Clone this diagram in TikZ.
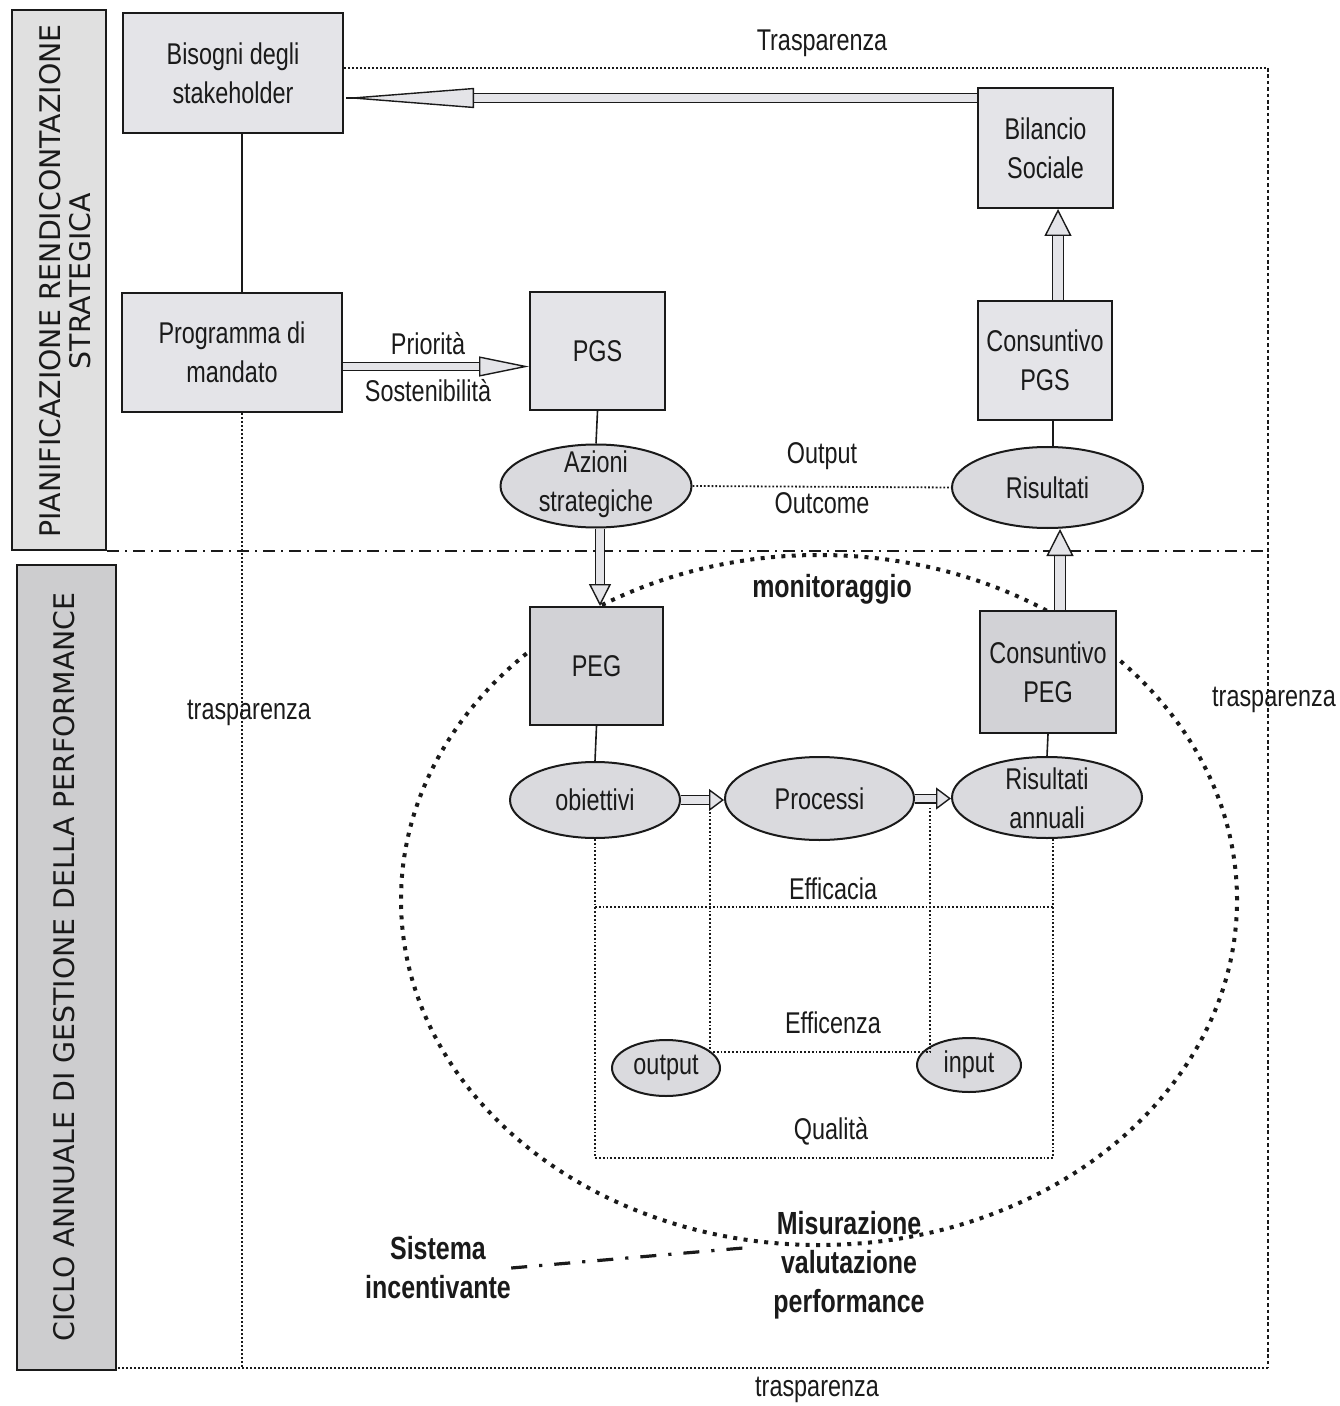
\documentclass[tikz,border=0pt]{standalone}
\usepackage{fontspec}
\setmainfont[FakeStretch=0.78]{Liberation Sans}
\newfontfamily\bannerfont{DejaVu Sans}
\usetikzlibrary{arrows.meta,shapes.geometric,calc}
\definecolor{boxfill}{HTML}{E4E4E8}
\definecolor{pegfill}{HTML}{D2D2D6}
\definecolor{ellfill}{HTML}{DADADE}
\definecolor{banA}{HTML}{E0E0E0}
\definecolor{banB}{HTML}{CDCDCF}
\definecolor{ink}{HTML}{1A1A1A}
% #1 shaft gap, #2 tip length, #3 tip width, #4 shorten, #5 start, #6 end
\newcommand{\hollowarrow}[6]{%
  \draw[draw=ink, line width=0.7pt, double=boxfill, double distance=#1, shorten >=#4] (#5) -- (#6);
  \draw[draw=ink, line width=0.7pt, -{Triangle[length=#2, width=#3, fill=boxfill]}] ($(#6)!1pt!(#5)$) -- (#6);
}
\begin{document}
\begin{tikzpicture}[x=0.5pt,y=-0.5pt,
  font=\fontsize{15pt}{19.5pt}\selectfont, text=ink,
  box/.style={draw=ink, line width=1pt, fill=boxfill, rectangle, inner sep=0pt, align=center},
  pegbox/.style={box, fill=pegfill},
  ell/.style={draw=ink, line width=1pt, fill=ellfill, ellipse, inner sep=0pt},
  txt/.style={inner sep=0pt, align=center},
  boldtxt/.style={txt, font=\fontsize{16pt}{19.5pt}\selectfont\bfseries},
  banner/.style={draw=ink, line width=1pt, rectangle, inner sep=0pt},
  link/.style={draw=ink, line width=0.8pt},
  frame/.style={draw=ink, line width=1pt, densely dotted},
  frameR/.style={draw=ink, line width=0.9pt, dash pattern=on 1.8pt off 1.4pt},
  sep/.style={draw=ink, line width=0.9pt, dash pattern=on 6pt off 3pt on 1pt off 3pt},
  grid/.style={draw=ink, line width=0.9pt, densely dotted},
  bigdots/.style={draw=ink, line width=2pt, dash pattern=on 2pt off 3.2pt},
  incent/.style={draw=ink, line width=1.6pt, dash pattern=on 8pt off 6pt on 1.6pt off 6pt},
]
\useasboundingbox (0,0) rectangle (1339,1406);

% helper coordinates
\coordinate (c242) at (242,0);
\coordinate (TR) at (1268,68);
\coordinate (BR) at (1268,1368);
\coordinate (y98) at (0,98);
\coordinate (y366) at (0,366.5);
\coordinate (x1058) at (1058,0);
\coordinate (x600) at (600,0);
\coordinate (x1060) at (1060,0);
\coordinate (x1053) at (1053,0);
\coordinate (q1) at (0,907);
\coordinate (q2) at (0,1158);
\coordinate (e1) at (710,808);
\coordinate (e2) at (930,808);
\coordinate (y1052) at (0,1052);

% big monitoring cycle
\draw[bigdots] (819,900) ellipse [x radius=209pt, y radius=172.5pt];

% banners
\node[banner, fill=banA, minimum width=47pt, minimum height=270pt] (ban1) at (59,280) {};
\node[rotate=90, align=center, inner sep=0pt, font=\bannerfont\fontsize{14.2pt}{15pt}\selectfont] (ban1t) at (65,281) {PIANIFICAZIONE RENDICONTAZIONE\\STRATEGICA};
\node[banner, fill=banB, minimum width=49.5pt, minimum height=402.5pt] (ban2) at (66.5,967.5) {};
\node[rotate=90, inner sep=0pt, font=\bannerfont\fontsize{14.2pt}{15pt}\selectfont] (ban2t) at (64,967) {CICLO ANNUALE DI GESTIONE DELLA PERFORMANCE};

% separator
\draw[sep] (ban1.south east) -- (TR |- ban1.south east);

% boxes
\node[box, minimum width=110pt, minimum height=60pt] (bis) at (233,73) {Bisogni degli\\stakeholder};
\node[box, minimum width=110pt, minimum height=59.5pt] (prog) at (232,352.5) {Programma di\\mandato};
\node[box, minimum width=67.5pt, minimum height=59pt] (pgs) at (597.5,351) {PGS};
\node[box, minimum width=67.5pt, minimum height=60pt] (bil) at (1045.5,148) {Bilancio\\Sociale};
\node[box, minimum width=67pt, minimum height=59.5pt] (cpgs) at (1045,360.5) {Consuntivo\\PGS};
\node[pegbox, minimum width=66.5pt, minimum height=59pt] (peg) at (596.5,666) {PEG};
\node[pegbox, minimum width=68pt, minimum height=61pt] (cpeg) at (1048,672) {Consuntivo\\PEG};

% ellipses
\node[ell, minimum width=95.5pt, minimum height=41.5pt] (az) at (596,486) {};
\node[txt] (azt) at (596,484) {Azioni\\strategiche};
\node[ell, minimum width=95.5pt, minimum height=40.5pt] (ris) at (1047.5,487.5) {Risultati};
\node[ell, minimum width=85pt, minimum height=38pt] (obi) at (595,800) {obiettivi};
\node[ell, minimum width=94.5pt, minimum height=41.5pt] (proc) at (819.5,798.5) {Processi};
\node[ell, minimum width=95pt, minimum height=40.5pt] (risa) at (1047,797.5) {};
\node[txt] (risat) at (1047,798) {Risultati\\annuali};
\node[ell, minimum width=54pt, minimum height=28pt] (out) at (666,1068) {output};
\node[ell, minimum width=52pt, minimum height=27pt] (inp) at (969,1065) {input};

% frame
\draw[frame] (bis.east |- TR) -- (TR);
\draw[frameR] (TR) -- (BR);
\draw[frame] (BR) -- (ban2.east |- BR);
\draw[frame] (prog.south -| c242) -- (c242 |- BR);

% solid links
\draw[link] (bis.south -| c242) -- (prog.north -| c242);
\draw[link] (pgs.south) -- (az.north);
\draw[link] (cpgs.south -| x1053) -- (ris.north -| x1053);
\draw[link] (peg.south) -- (obi.north);
\draw[link] (cpeg.south) -- (risa.north);

% hollow arrow end points
\coordinate (a1s) at (bil.west |- y98);   \coordinate (a1e) at (bis.east |- y98);
\coordinate (a2s) at (cpgs.north -| x1058); \coordinate (a2e) at (bil.south -| x1058);
\coordinate (a3s) at (prog.east |- y366); \coordinate (a3e) at (pgs.west |- y366);
\coordinate (a4s) at (az.south -| x600);  \coordinate (a4e) at (peg.north -| x600);
\coordinate (a5s) at (cpeg.north -| x1060); \coordinate (a5e) at (ris.south -| x1060);
\coordinate (a6s) at (obi.east);          \coordinate (a6e) at (proc.west |- obi.east);
\coordinate (a7s) at (proc.east);         \coordinate (a7e) at (risa.west |- proc.east);

\hollowarrow{3.6pt}{65pt}{10pt}{64pt}{a1s}{a1e}
\hollowarrow{4.6pt}{13.5pt}{13.5pt}{13pt}{a2s}{a2e}
\hollowarrow{3.2pt}{25pt}{10pt}{24.5pt}{a3s}{a3e}
\hollowarrow{3.6pt}{11pt}{11pt}{10.5pt}{a4s}{a4e}
\hollowarrow{4.6pt}{13.5pt}{13.5pt}{13pt}{a5s}{a5e}
\hollowarrow{3.6pt}{7.5pt}{11pt}{7pt}{a6s}{a6e}
\hollowarrow{3.6pt}{7.5pt}{11pt}{7pt}{a7s}{a7e}

% dotted relations
\draw[grid] (az.east) -- (ris.west);
\draw[grid] (obi.south) -- (obi.south |- q2) -- (x1053 |- q2) -- (risa.south -| x1053);
\draw[grid] (obi.south |- q1) -- (x1053 |- q1);
\draw[grid] (e1) -- (e1 |- y1052) -- (e2 |- y1052) -- (e2);

% labels
\node[txt] (ltop) at (822,43) {Trasparenza};
\node[txt] (lprio) at (428,344) {Priorità};
\node[txt] (lsost) at (428,391) {Sostenibilità};
\node[txt] (lout) at (822,456) {Output};
\node[txt] (loutc) at (822,503) {Outcome};
\node[txt] (lleft) at (249,713) {trasparenza};
\node[txt] (lright) at (1274,700) {trasparenza};
\node[txt] (lbot) at (817,1390) {trasparenza};
\node[txt] (leffa) at (833,889) {Efficacia};
\node[txt] (leffe) at (833,1023) {Efficenza};
\node[txt] (lqual) at (831,1131) {Qualità};
\node[boldtxt] (mon) at (832,589) {monitoraggio};
\node[boldtxt] (sist) at (438,1268) {Sistema\\incentivante};
\node[boldtxt] (mis) at (849,1265) {Misurazione\\valutazione\\performance};

\draw[incent] (sist.east) -- ([shift={(-15pt,8.5pt)}]mis.west);
\end{tikzpicture}
\end{document}
